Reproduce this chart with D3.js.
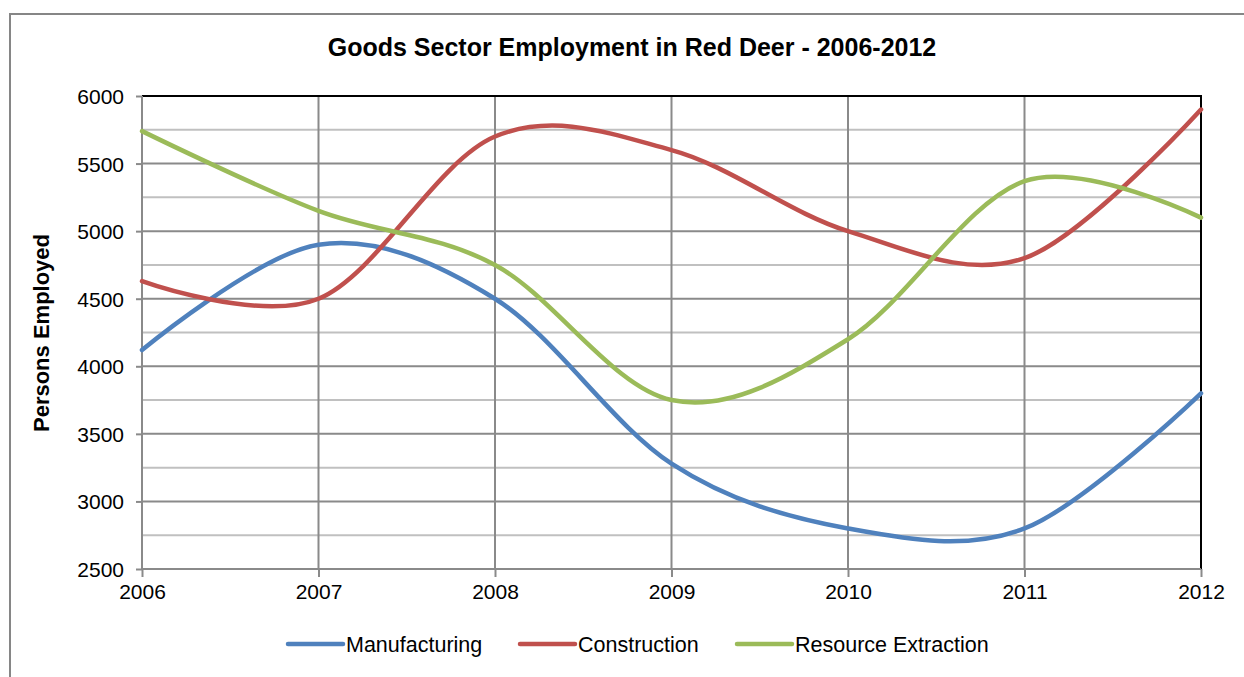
<!DOCTYPE html>
<html>
<head>
<meta charset="utf-8">
<script src="https://cdn.jsdelivr.net/npm/d3@7"></script>
<style>
    body { margin: 0; background: #fff; }
    svg { display: block; font-family: "Liberation Sans", Arial, sans-serif; }
</style>
</head>
<body>
<svg id="drawing_region"></svg>
<script>
// chart values
const years = [2006, 2007, 2008, 2009, 2010, 2011, 2012];
const manufacturing = [4120, 4900, 4500, 3280, 2800, 2800, 3800];
const construction = [4630, 4500, 5700, 5600, 5000, 4800, 5900];
const resourceExtraction = [5740, 5150, 4750, 3750, 4200, 5370, 5100];
const seriesNames = ['Manufacturing', 'Construction', 'Resource Extraction'];
const seriesColors = ['#4F81BD', '#C0504D', '#9BBB59'];
const yTicks = [2500, 3000, 3500, 4000, 4500, 5000, 5500, 6000];
const yMinorTicks = [2750, 3250, 3750, 4250, 4750, 5250, 5750];

const width = 1244, height = 677;
const margin = { top: 96, right: 43, bottom: 108, left: 142 };

const svg = d3.select('#drawing_region')
    .attr('width', width)
    .attr('height', height);

// outer chart frame (runs past the right and bottom edges)
svg.append('rect')
    .attr('x', 10).attr('y', 14)
    .attr('width', 1260).attr('height', 700)
    .attr('fill', 'none')
    .attr('stroke', '#868686')
    .attr('stroke-width', 2);

const innerW = width - margin.left - margin.right;
const innerH = height - margin.top - margin.bottom;

const x = d3.scaleLinear().domain([2006, 2012]).range([0, innerW]);
const y = d3.scaleLinear().domain([2500, 6000]).range([innerH, 0]);

const chart = svg.append('g')
    .attr('transform', `translate(${margin.left}, ${margin.top})`);

// minor horizontal grid
chart.append('g')
    .selectAll('line')
    .data(yMinorTicks)
    .join('line')
    .attr('x1', 0).attr('x2', innerW)
    .attr('y1', d => y(d)).attr('y2', d => y(d))
    .attr('stroke', '#c0c0c0')
    .attr('stroke-width', 2);

// major horizontal grid
chart.append('g')
    .selectAll('line')
    .data(yTicks.slice(1))
    .join('line')
    .attr('x1', 0).attr('x2', innerW)
    .attr('y1', d => y(d)).attr('y2', d => y(d))
    .attr('stroke', '#8a8a8a')
    .attr('stroke-width', 2);

// vertical grid
chart.append('g')
    .selectAll('line')
    .data(years.slice(1))
    .join('line')
    .attr('x1', d => x(d)).attr('x2', d => x(d))
    .attr('y1', 0).attr('y2', innerH)
    .attr('stroke', '#8a8a8a')
    .attr('stroke-width', 2);

// top and right plot border
chart.append('path')
    .attr('d', `M0,${y(6000)}H${x(2012)}V${innerH}`)
    .attr('fill', 'none')
    .attr('stroke', '#000')
    .attr('stroke-width', 2);

// axes
const yAxis = d3.axisLeft(y).tickValues(yTicks).tickSize(6).tickPadding(12)
    .tickFormat(d3.format('d'));
const xAxis = d3.axisBottom(x).tickValues(years).tickSize(8).tickPadding(7)
    .tickFormat(d3.format('d'));

const yg = chart.append('g').call(yAxis);
const xg = chart.append('g').attr('transform', `translate(0, ${innerH})`).call(xAxis);
[yg, xg].forEach(g => {
    g.select('.domain').attr('stroke', '#8a8a8a').attr('stroke-width', 2);
    g.selectAll('.tick line').attr('stroke', '#8a8a8a').attr('stroke-width', 2);
    g.selectAll('.tick text')
        .attr('fill', '#000')
        .style('font-family', '"Liberation Sans", Arial, sans-serif')
        .style('font-size', '21px');
});
yg.select('.domain').attr('d', `M0,0V${innerH}`);
xg.select('.domain').attr('d', `M0,0H${innerW}`);
yg.selectAll('.tick text').attr('dy', '0.36em');

// lines
const series = [manufacturing, construction, resourceExtraction];
const line = d3.line()
    .x((d, i) => x(years[i]))
    .y(d => y(d))
    .curve(d3.curveCardinal.tension(0));

chart.append('g')
    .selectAll('path')
    .data(series)
    .join('path')
    .attr('d', d => line(d))
    .attr('fill', 'none')
    .attr('stroke', (d, i) => seriesColors[i])
    .attr('stroke-width', 4.5)
    .attr('stroke-linecap', 'round');

// title
svg.append('text')
    .attr('x', 632).attr('y', 56)
    .attr('text-anchor', 'middle')
    .style('font-size', '25px')
    .style('font-weight', 'bold')
    .text('Goods Sector Employment in Red Deer - 2006-2012');

// y axis title
svg.append('text')
    .attr('transform', 'translate(49, 333) rotate(-90)')
    .attr('text-anchor', 'middle')
    .style('font-size', '22px')
    .style('font-weight', 'bold')
    .text('Persons Employed');

// legend
const legendX = [288, 520, 737];
const legend = svg.append('g')
    .selectAll('g')
    .data(seriesNames)
    .join('g')
    .attr('transform', (d, i) => `translate(${legendX[i]}, 644)`);
legend.append('line')
    .attr('x1', 0).attr('x2', 55)
    .attr('stroke', (d, i) => seriesColors[i])
    .attr('stroke-width', 4.5)
    .attr('stroke-linecap', 'round');
legend.append('text')
    .attr('x', 58).attr('dy', '0.36em')
    .style('font-size', '21.5px')
    .text(d => d);
</script>
</body>
</html>
